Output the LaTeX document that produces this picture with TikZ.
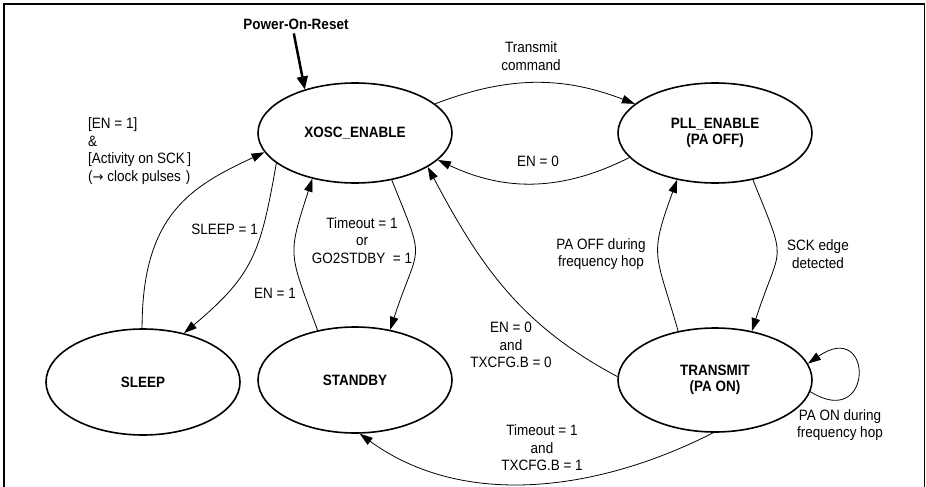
\documentclass[tikz,border=0pt]{standalone}
\usepackage{fontspec}
\setmainfont[FakeStretch=0.9]{Liberation Sans}
\newfontfamily\arrowfont{DejaVu Sans}
\usetikzlibrary{shapes.geometric,arrows.meta}
\begin{document}
\begin{tikzpicture}[x=1pt,y=-1pt,
  state/.style={draw, ellipse, line width=1.6pt, minimum width=194pt, minimum height=100pt,
    font=\bfseries\fontsize{15}{16.5}\selectfont, align=center, inner sep=0pt},
  lbl/.style={font=\fontsize{15}{17.5}\selectfont, align=center, inner sep=0pt},
  tr/.style={line width=0.8pt, -{Triangle[length=13pt,width=8.5pt]}},
]
\useasboundingbox (0,0) rectangle (926,487);
\draw[line width=2.5pt] (4,495) -- (4,4) -- (924.5,4);
\draw[line width=1.2pt] (924.5,4) -- (924.5,495);

% states
\node[state] (xosc) at (355,133) {XOSC\_ENABLE};
\node[state] (pll) at (715,133) {PLL\_ENABLE\\(PA OFF)};
\node[state, minimum height=106pt] (sleep) at (143,382) {SLEEP};
\node[state, minimum height=106pt] (stdby) at (355,380) {STANDBY};
\node[state, minimum height=104pt] (tx) at (715,380) {TRANSMIT\\(PA ON)};

% power on reset
\node[font=\bfseries\fontsize{15}{16.5}\selectfont, inner sep=0pt] (por) at (296,24) {Power-On-Reset};
\draw[line width=2.5pt, -{Triangle[length=13pt,width=11pt]}, shorten <=4pt] ([xshift=-3pt]por.south) -- (xosc.139);

% transitions
\draw[tr] (xosc.20) to[bend left=21] (pll.160);
\draw[tr] (pll.196) to[bend left=26] (xosc.342);
\draw[tr] (xosc.201) to[out=-100,in=40,looseness=1.2] (sleep.50);
\draw[tr] (sleep.91) .. controls +(0,-114) and +(-73,34) .. (xosc.192);
\draw[tr] (stdby.127) to[out=110,in=252,looseness=1.4] (xosc.227);
\draw[tr] (xosc.308) to[out=-68,in=72,looseness=1.6] (stdby.55);
\draw[tr] (tx.178) to[out=152,in=-62] (xosc.335);
\draw[tr] (pll.309) to[out=-68,in=72,looseness=1.6] (tx.53);
\draw[tr] (tx.127) to[out=106,in=250,looseness=1.4] (pll.231);
\draw[tr] (tx.-7) .. controls +(64,40) and +(66,-46) .. (tx.10);
\draw[tr] (tx.268) to[out=207,in=324,looseness=0.93] (stdby.275);

% labels
\node[lbl] (l1) at (531,56) {Transmit\\command};
\node[lbl] (l2) at (538,161) {EN = 0};
\node[lbl, align=left, anchor=west] (l3) at (88,151) {[EN = 1]\\\&\\{[Activity on SCK\,]}\\({\arrowfont\fontsize{13}{17.5}\selectfont →} clock pulses\,\,)};
\node[lbl, anchor=east] (l4) at (258,229) {SLEEP = 1};
\node[lbl] (l5) at (362,240.5) {Timeout = 1\\or\\GO2STDBY\enspace= 1};
\node[lbl, anchor=east] (l6) at (296,293) {EN = 1};
\node[lbl] (l7) at (601,254) {PA OFF during\\frequency hop};
\node[lbl] (l8) at (818,254) {SCK edge\\detected};
\node[lbl] (l9) at (511,345) {EN = 0\\and\\TXCFG.B = 0};
\node[lbl] (l10) at (840,425) {PA ON during\\frequency hop};
\node[lbl] (l11) at (542,448) {Timeout = 1\\and\\TXCFG.B = 1};
\end{tikzpicture}
\end{document}
